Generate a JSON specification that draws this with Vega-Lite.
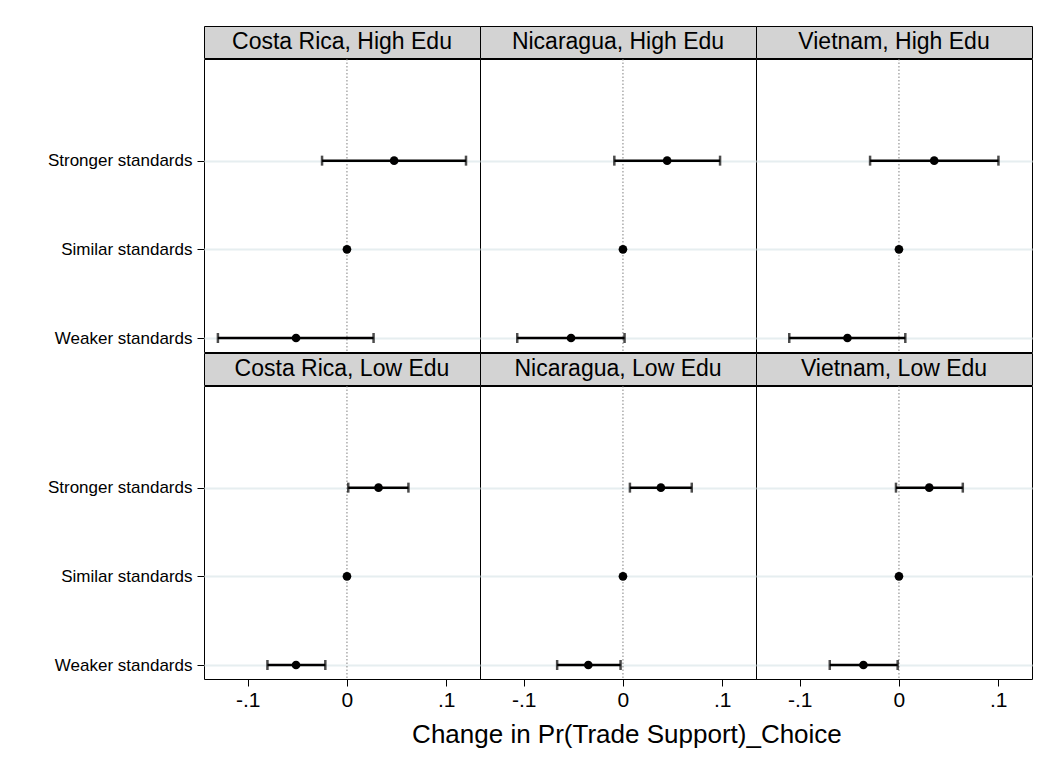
{
  "$schema": "https://vega.github.io/schema/vega-lite/v6.json",
  "background": "white",
  "padding": {"left": 47, "top": 25, "right": 5, "bottom": 5},
  "spacing": -1,
  "datasets": {
    "panels": [
      {"country": "Costa Rica", "edu": "High", "panel": "Costa Rica, High Edu"},
      {"country": "Nicaragua", "edu": "High", "panel": "Nicaragua, High Edu"},
      {"country": "Vietnam", "edu": "High", "panel": "Vietnam, High Edu"},
      {"country": "Costa Rica", "edu": "Low", "panel": "Costa Rica, Low Edu"},
      {"country": "Nicaragua", "edu": "Low", "panel": "Nicaragua, Low Edu"},
      {"country": "Vietnam", "edu": "Low", "panel": "Vietnam, Low Edu"}
    ],
    "effects": [
      {"country": "Costa Rica", "edu": "High", "cat": "Stronger standards", "est": 0.0475, "lo": -0.0251, "hi": 0.1199},
      {"country": "Costa Rica", "edu": "High", "cat": "Similar standards", "est": 0, "lo": null, "hi": null},
      {"country": "Costa Rica", "edu": "High", "cat": "Weaker standards", "est": -0.0513, "lo": -0.130, "hi": 0.0268},
      {"country": "Nicaragua", "edu": "High", "cat": "Stronger standards", "est": 0.0445, "lo": -0.0087, "hi": 0.0978},
      {"country": "Nicaragua", "edu": "High", "cat": "Similar standards", "est": 0, "lo": null, "hi": null},
      {"country": "Nicaragua", "edu": "High", "cat": "Weaker standards", "est": -0.0523, "lo": -0.1065, "hi": 0.0016},
      {"country": "Vietnam", "edu": "High", "cat": "Stronger standards", "est": 0.0355, "lo": -0.0291, "hi": 0.1002},
      {"country": "Vietnam", "edu": "High", "cat": "Similar standards", "est": 0, "lo": null, "hi": null},
      {"country": "Vietnam", "edu": "High", "cat": "Weaker standards", "est": -0.0519, "lo": -0.1105, "hi": 0.0064},
      {"country": "Costa Rica", "edu": "Low", "cat": "Stronger standards", "est": 0.0318, "lo": 0.0013, "hi": 0.0619},
      {"country": "Costa Rica", "edu": "Low", "cat": "Similar standards", "est": 0, "lo": null, "hi": null},
      {"country": "Costa Rica", "edu": "Low", "cat": "Weaker standards", "est": -0.0513, "lo": -0.0801, "hi": -0.0218},
      {"country": "Nicaragua", "edu": "Low", "cat": "Stronger standards", "est": 0.0382, "lo": 0.0070, "hi": 0.0693},
      {"country": "Nicaragua", "edu": "Low", "cat": "Similar standards", "est": 0, "lo": null, "hi": null},
      {"country": "Nicaragua", "edu": "Low", "cat": "Weaker standards", "est": -0.0349, "lo": -0.0663, "hi": -0.0024},
      {"country": "Vietnam", "edu": "Low", "cat": "Stronger standards", "est": 0.0305, "lo": -0.0030, "hi": 0.0643},
      {"country": "Vietnam", "edu": "Low", "cat": "Similar standards", "est": 0, "lo": null, "hi": null},
      {"country": "Vietnam", "edu": "Low", "cat": "Weaker standards", "est": -0.0358, "lo": -0.0697, "hi": -0.0013}
    ]
  },
  "title": {
    "text": "Change in Pr(Trade Support)_Choice",
    "orient": "bottom",
    "anchor": "middle",
    "fontSize": 26,
    "font": "Liberation Sans",
    "fontWeight": "normal",
    "color": "black",
    "offset": 12,
    "dx": 87
  },
  "vconcat": [
    {
      "data": {"name": "panels"},
      "transform": [{"filter": "datum.edu == 'High'"}],
      "facet": {"column": {"field": "country", "type": "nominal", "sort": ["Costa Rica", "Nicaragua", "Vietnam"], "header": {"labels": false, "title": null}}},
      "spacing": 0,
      "bounds": "flush",
      "spec": {
        "width": 276,
        "height": 32,
        "view": {"fill": "#d3d3d3", "stroke": "black", "strokeWidth": 1},
        "mark": {"type": "text", "fontSize": 23, "font": "Liberation Sans", "color": "black", "baseline": "middle", "align": "center"},
        "encoding": {
          "text": {"field": "panel", "type": "nominal"},
          "y": {"field": "edu", "type": "nominal", "axis": {"title": null, "labelExpr": "'Stronger standards'", "labelColor": "transparent", "tickColor": "transparent", "grid": false, "labelOverlap": false}}
        }
      }
    },
    {
      "data": {"name": "effects"},
      "transform": [{"filter": "datum.edu == 'High'"}],
      "facet": {"column": {"field": "country", "type": "nominal", "sort": ["Costa Rica", "Nicaragua", "Vietnam"], "header": {"labels": false, "title": null}}},
      "spacing": 0,
      "bounds": "flush",
      "spec": {
        "width": 276,
        "height": 293,
        "layer": [
          {
            "transform": [{"filter": "datum.cat == 'Similar standards'"}],
            "mark": {"type": "rule", "color": "#808080", "strokeDash": [1.5, 2], "strokeWidth": 1},
            "encoding": {"x": {"datum": 0, "type": "quantitative", "scale": {"domain": [-0.144, 0.134], "nice": false, "zero": false}, "axis": null}}
          },
          {
            "transform": [{"filter": "datum.lo != null"}],
            "mark": {"type": "rule", "color": "black", "strokeWidth": 2.5},
            "encoding": {
              "x": {"field": "lo", "type": "quantitative"},
              "x2": {"field": "hi"},
              "y": {"field": "cat", "type": "nominal", "scale": {"type": "point", "domain": ["Stronger standards", "Similar standards", "Weaker standards"], "padding": 0.652, "align": 0.879}, "axis": {"title": null, "labelOverlap": false}}
            }
          },
          {
            "transform": [{"filter": "datum.lo != null"}],
            "mark": {"type": "tick", "color": "black", "thickness": 2.5, "size": 10, "orient": "vertical"},
            "encoding": {
              "x": {"field": "lo", "type": "quantitative"},
              "y": {"field": "cat", "type": "nominal"}
            }
          },
          {
            "transform": [{"filter": "datum.hi != null"}],
            "mark": {"type": "tick", "color": "black", "thickness": 2.5, "size": 10, "orient": "vertical"},
            "encoding": {
              "x": {"field": "hi", "type": "quantitative"},
              "y": {"field": "cat", "type": "nominal"}
            }
          },
          {
            "mark": {"type": "circle", "color": "black", "opacity": 1, "size": 75},
            "encoding": {
              "x": {"field": "est", "type": "quantitative"},
              "y": {"field": "cat", "type": "nominal"}
            }
          }
        ]
      }
    },
    {
      "data": {"name": "panels"},
      "transform": [{"filter": "datum.edu == 'Low'"}],
      "facet": {"column": {"field": "country", "type": "nominal", "sort": ["Costa Rica", "Nicaragua", "Vietnam"], "header": {"labels": false, "title": null}}},
      "spacing": 0,
      "bounds": "flush",
      "spec": {
        "width": 276,
        "height": 32,
        "view": {"fill": "#d3d3d3", "stroke": "black", "strokeWidth": 1},
        "mark": {"type": "text", "fontSize": 23, "font": "Liberation Sans", "color": "black", "baseline": "middle", "align": "center"},
        "encoding": {
          "text": {"field": "panel", "type": "nominal"},
          "y": {"field": "edu", "type": "nominal", "axis": {"title": null, "labelExpr": "'Stronger standards'", "labelColor": "transparent", "tickColor": "transparent", "grid": false, "labelOverlap": false}}
        }
      }
    },
    {
      "data": {"name": "effects"},
      "transform": [{"filter": "datum.edu == 'Low'"}],
      "facet": {"column": {"field": "country", "type": "nominal", "sort": ["Costa Rica", "Nicaragua", "Vietnam"], "header": {"labels": false, "title": null}}},
      "spacing": 0,
      "bounds": "flush",
      "spec": {
        "width": 276,
        "height": 293,
        "layer": [
          {
            "transform": [{"filter": "datum.cat == 'Similar standards'"}],
            "mark": {"type": "rule", "color": "#808080", "strokeDash": [1.5, 2], "strokeWidth": 1},
            "encoding": {"x": {"datum": 0, "type": "quantitative", "scale": {"domain": [-0.144, 0.134], "nice": false, "zero": false}, "axis": {"title": null, "values": [-0.1, 0, 0.1], "labelExpr": "datum.value == 0 ? '0' : (datum.value < 0 ? '-' : '') + replace(format(abs(datum.value), '.1f'), '0.', '.')"}}}
          },
          {
            "transform": [{"filter": "datum.lo != null"}],
            "mark": {"type": "rule", "color": "black", "strokeWidth": 2.5},
            "encoding": {
              "x": {"field": "lo", "type": "quantitative"},
              "x2": {"field": "hi"},
              "y": {"field": "cat", "type": "nominal", "scale": {"type": "point", "domain": ["Stronger standards", "Similar standards", "Weaker standards"], "padding": 0.652, "align": 0.879}, "axis": {"title": null, "labelOverlap": false}}
            }
          },
          {
            "transform": [{"filter": "datum.lo != null"}],
            "mark": {"type": "tick", "color": "black", "thickness": 2.5, "size": 10, "orient": "vertical"},
            "encoding": {
              "x": {"field": "lo", "type": "quantitative"},
              "y": {"field": "cat", "type": "nominal"}
            }
          },
          {
            "transform": [{"filter": "datum.hi != null"}],
            "mark": {"type": "tick", "color": "black", "thickness": 2.5, "size": 10, "orient": "vertical"},
            "encoding": {
              "x": {"field": "hi", "type": "quantitative"},
              "y": {"field": "cat", "type": "nominal"}
            }
          },
          {
            "mark": {"type": "circle", "color": "black", "opacity": 1, "size": 75},
            "encoding": {
              "x": {"field": "est", "type": "quantitative"},
              "y": {"field": "cat", "type": "nominal"}
            }
          }
        ]
      }
    }
  ],
  "config": {
    "font": "Liberation Sans",
    "view": {"stroke": "black", "strokeWidth": 1},
    "axis": {"labelFont": "Liberation Sans", "labelColor": "black", "tickColor": "black", "domain": false, "tickSize": 7, "tickWidth": 1},
    "axisY": {"labelFontSize": 17, "labelPadding": 5, "grid": true, "gridColor": "#e6eef0", "gridWidth": 2},
    "axisX": {"labelFontSize": 21, "labelPadding": 3, "grid": false}
  }
}
